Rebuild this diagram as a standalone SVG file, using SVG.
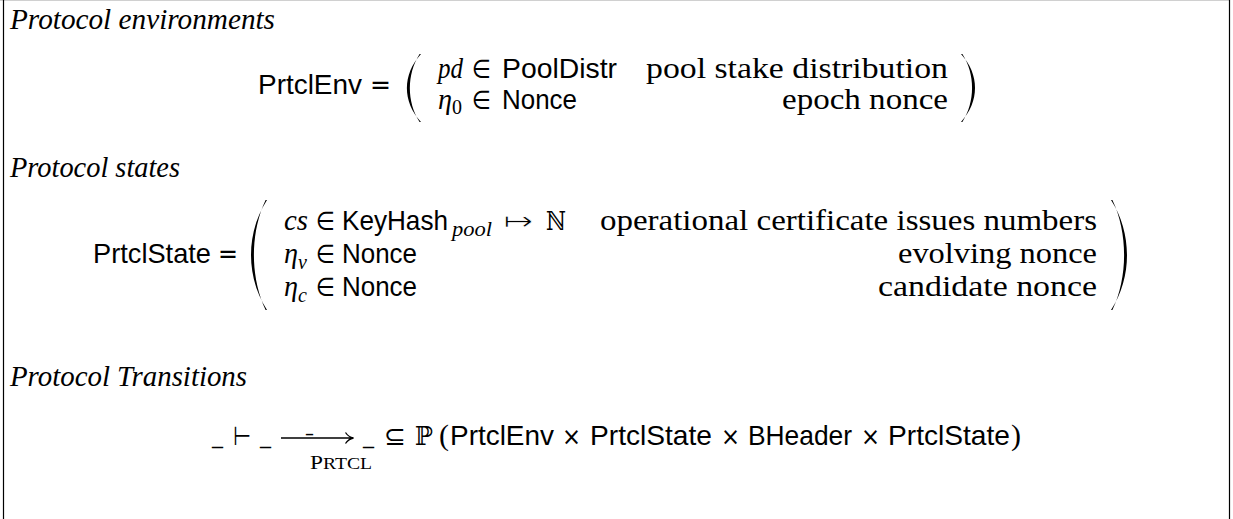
<svg xmlns="http://www.w3.org/2000/svg" width="1233" height="519" viewBox="0 0 1233 519">
<style>
text{fill:#000}
.rm{font-family:"Liberation Serif",serif;font-size:29px}
.it{font-family:"Liberation Serif",serif;font-size:29px;font-style:italic}
.sf{font-family:"Liberation Sans",sans-serif;font-size:28px}
.sy{font-family:"DejaVu Sans",sans-serif;font-size:26px}
.bb{font-family:"DejaVu Serif","DejaVu Sans",serif;font-size:26px}
.thin{stroke:#fff;stroke-width:0.8px}
.sub{font-family:"Liberation Serif",serif;font-size:20px;font-style:italic}
.subr{font-family:"Liberation Serif",serif;font-size:20px}
.sc{font-family:"Liberation Serif",serif;font-size:16px}
.tm{font-family:"DejaVu Sans",sans-serif;font-size:25px}
.ln{stroke:#000;fill:none}
</style>
<rect width="1233" height="519" fill="#fff"/>
<g id="frame">
<line x1="0" y1="0.5" x2="1230" y2="0.5" stroke="#d0d0d0" stroke-width="1"/>
<line x1="3.5" y1="0" x2="3.5" y2="519" stroke="#000" stroke-width="1.2"/>
<line x1="1229.5" y1="0" x2="1229.5" y2="519" stroke="#000" stroke-width="1.2"/>
</g>
<g id="env">
<text class="it" x="10" y="29" textLength="265" lengthAdjust="spacingAndGlyphs">Protocol environments</text>
<text class="sf" x="258" y="94" textLength="104" lengthAdjust="spacingAndGlyphs">PrtclEnv</text>
<text class="sy" x="370" y="94" textLength="21" lengthAdjust="spacingAndGlyphs">=</text>
<path d="M421,54 C402.33,74.4 402.33,101.6 421,122 L419.6,122 C406.67,101.6 406.67,74.4 419.6,54 Z"/>
<text class="it" x="438" y="78" textLength="25" lengthAdjust="spacingAndGlyphs">pd</text>
<text class="sy" x="472" y="78" textLength="19" lengthAdjust="spacingAndGlyphs">∈</text>
<text class="sf" x="502" y="78" textLength="115" lengthAdjust="spacingAndGlyphs">PoolDistr</text>
<text class="rm" x="646" y="78" textLength="302" lengthAdjust="spacingAndGlyphs">pool stake distribution</text>
<text class="it" x="438" y="109" textLength="14" lengthAdjust="spacingAndGlyphs">η</text>
<text class="subr" x="452" y="114">0</text>
<text class="sy" x="472" y="109" textLength="19" lengthAdjust="spacingAndGlyphs">∈</text>
<text class="sf" x="502" y="109" textLength="75" lengthAdjust="spacingAndGlyphs">Nonce</text>
<text class="rm" x="782" y="109" textLength="166" lengthAdjust="spacingAndGlyphs">epoch nonce</text>
<path d="M961,54 C979.67,74.4 979.67,101.6 961,122 L962.4,122 C975.33,101.6 975.33,74.4 962.4,54 Z"/>
</g>
<g id="state">
<text class="it" x="10" y="177" textLength="170" lengthAdjust="spacingAndGlyphs">Protocol states</text>
<text class="sf" x="93" y="263" textLength="118" lengthAdjust="spacingAndGlyphs">PrtclState</text>
<text class="sy" x="218" y="263" textLength="20" lengthAdjust="spacingAndGlyphs">=</text>
<path d="M267,200 C245.67,233 245.67,277 267,310 L265.6,310 C250,277 250,233 265.6,200 Z"/>
<text class="it" x="284" y="230" textLength="24" lengthAdjust="spacingAndGlyphs">cs</text>
<text class="sy" x="316" y="230" textLength="19" lengthAdjust="spacingAndGlyphs">∈</text>
<text class="sf" x="342" y="230" textLength="106" lengthAdjust="spacingAndGlyphs">KeyHash</text>
<text class="sub" x="452" y="236" textLength="40" lengthAdjust="spacingAndGlyphs">pool</text>
<text class="sy thin" x="503" y="230" textLength="30" lengthAdjust="spacingAndGlyphs">↦</text>
<text class="bb" x="546" y="230" textLength="20" lengthAdjust="spacingAndGlyphs">ℕ</text>
<text class="rm" x="600" y="230" textLength="497" lengthAdjust="spacingAndGlyphs">operational certificate issues numbers</text>
<text class="it" x="284" y="263" textLength="14" lengthAdjust="spacingAndGlyphs">η</text>
<text class="sub" x="298" y="269">v</text>
<text class="sy" x="316" y="263" textLength="19" lengthAdjust="spacingAndGlyphs">∈</text>
<text class="sf" x="342" y="263" textLength="75" lengthAdjust="spacingAndGlyphs">Nonce</text>
<text class="rm" x="898" y="263" textLength="199" lengthAdjust="spacingAndGlyphs">evolving nonce</text>
<text class="it" x="284" y="296" textLength="14" lengthAdjust="spacingAndGlyphs">η</text>
<text class="sub" x="298" y="302">c</text>
<text class="sy" x="316" y="296" textLength="19" lengthAdjust="spacingAndGlyphs">∈</text>
<text class="sf" x="342" y="296" textLength="75" lengthAdjust="spacingAndGlyphs">Nonce</text>
<text class="rm" x="878" y="296" textLength="219" lengthAdjust="spacingAndGlyphs">candidate nonce</text>
<path d="M1111,200 C1132.33,233 1132.33,277 1111,310 L1112.4,310 C1128,277 1128,233 1112.4,200 Z"/>
</g>
<g id="transition">
<text class="it" x="10" y="386" textLength="237" lengthAdjust="spacingAndGlyphs">Protocol Transitions</text>
<text class="rm" x="212" y="445" textLength="11" lengthAdjust="spacingAndGlyphs">_</text>
<text class="sy" x="233" y="445" textLength="18" lengthAdjust="spacingAndGlyphs">⊢</text>
<text class="rm" x="260" y="445" textLength="11" lengthAdjust="spacingAndGlyphs">_</text>
<path class="ln" stroke-width="1.3" d="M281,438 H352.5 M345.5,432.5 Q348.5,437 353.5,438 Q348.5,439 345.5,443.5"/>
<text class="rm" x="306" y="432" font-size="15" textLength="7" lengthAdjust="spacingAndGlyphs">_</text>
<text class="sc" x="310" y="469" textLength="62" lengthAdjust="spacingAndGlyphs"><tspan font-size="19">P</tspan>RTCL</text>
<text class="rm" x="363" y="445" textLength="11" lengthAdjust="spacingAndGlyphs">_</text>
<text class="sy" x="384" y="445" textLength="22" lengthAdjust="spacingAndGlyphs">⊆</text>
<text class="bb" x="415" y="445" textLength="18" lengthAdjust="spacingAndGlyphs">ℙ</text>
<text class="rm" x="439" y="445" textLength="10" lengthAdjust="spacingAndGlyphs">(</text>
<text class="sf" x="450" y="445" textLength="104" lengthAdjust="spacingAndGlyphs">PrtclEnv</text>
<text class="tm" x="562" y="445" textLength="19" lengthAdjust="spacingAndGlyphs">×</text>
<text class="sf" x="590" y="445" textLength="122" lengthAdjust="spacingAndGlyphs">PrtclState</text>
<text class="tm" x="721" y="445" textLength="19" lengthAdjust="spacingAndGlyphs">×</text>
<text class="sf" x="748" y="445" textLength="104" lengthAdjust="spacingAndGlyphs">BHeader</text>
<text class="tm" x="861" y="445" textLength="19" lengthAdjust="spacingAndGlyphs">×</text>
<text class="sf" x="888" y="445" textLength="122" lengthAdjust="spacingAndGlyphs">PrtclState</text>
<text class="rm" x="1011" y="445" textLength="10" lengthAdjust="spacingAndGlyphs">)</text>
</g>
</svg>
